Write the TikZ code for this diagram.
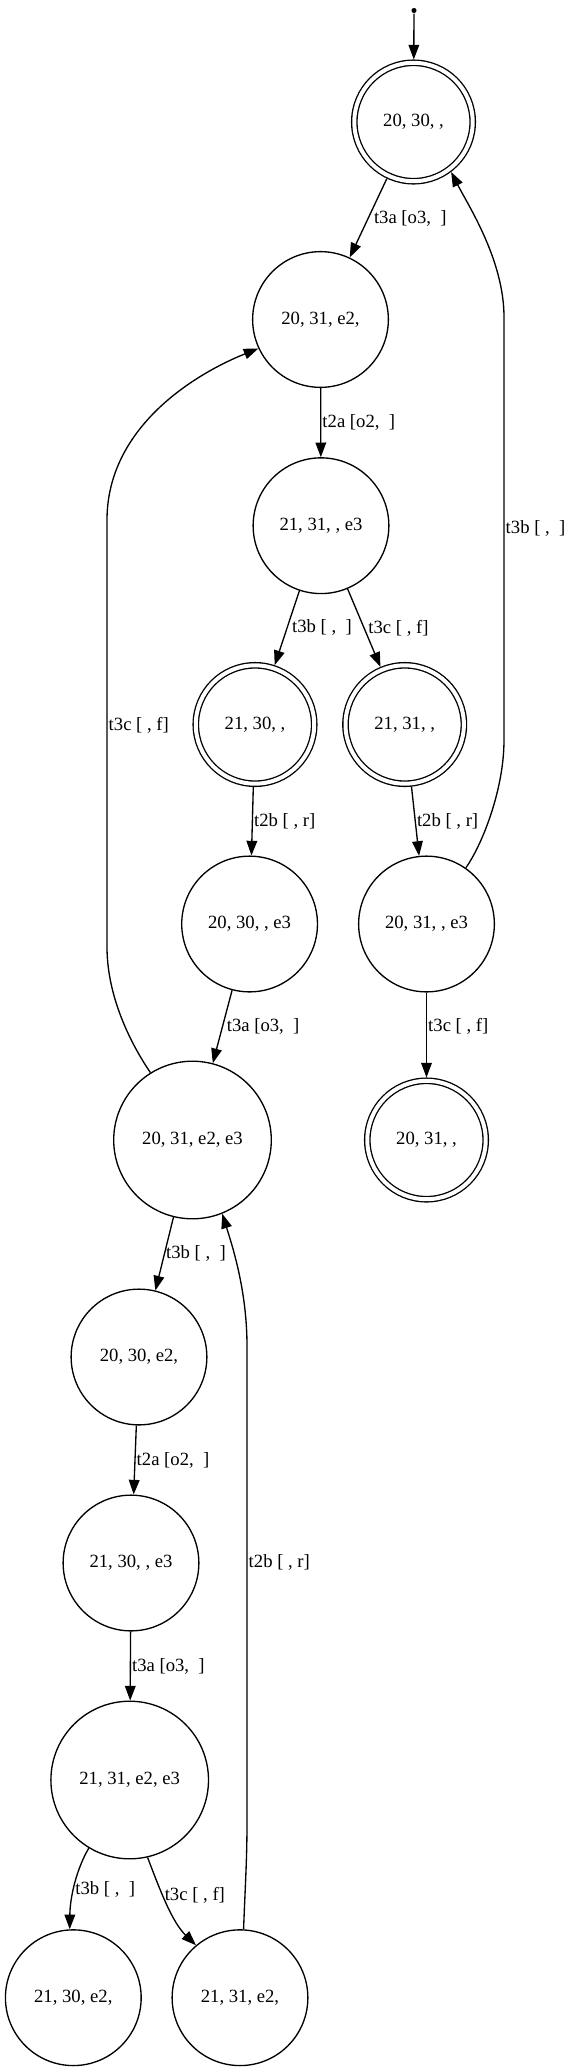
\documentclass[tikz,border=0pt]{standalone}
\usepackage{fontspec}
\setmainfont{Liberation Serif}
\usetikzlibrary{arrows.meta}

\begin{document}
\begin{tikzpicture}[x=0.75pt, y=-0.75pt, line width=1pt,
  every node/.style={font=\fontsize{14}{17}\selectfont},
  state/.style={circle, draw, inner sep=0pt, minimum size=101.8pt},
  widestate/.style={state, minimum size=118.2pt},
  accept/.style={circle, draw, double, double distance=3pt, inner sep=0pt, minimum size=88.8pt, outer sep=2.5pt},
  entry/.style={circle, fill, inner sep=0pt, minimum size=3.8pt},
  edge/.style={-{Triangle[length=11pt, width=8pt]}},
  lbl/.style={anchor=west, inner sep=0.8pt},
]
\useasboundingbox (0,0) rectangle (571,2067);

% States
\node[entry] (init) at (414, 10.5) {};
\node[accept] (s0) at (413.5, 122) {20, 30, ,};
\node[state] (s1) at (320.5, 319.5) {20, 31, e2,};
\node[state] (s2) at (321, 525.7) {21, 31, , e3};
\node[accept] (s3) at (255, 724.5) {21, 30, ,};
\node[accept] (s4) at (404.7, 724.5) {21, 31, ,};
\node[state] (s5) at (249.6, 924) {20, 30, , e3};
\node[state] (s6) at (426.5, 924) {20, 31, , e3};
\node[widestate] (s7) at (192.5, 1140) {20, 31, e2, e3};
\node[accept] (s8) at (426.5, 1140) {20, 31, ,};
\node[state] (s9) at (139, 1357) {20, 30, e2,};
\node[state] (s10) at (131, 1563) {21, 30, , e3};
\node[widestate] (s11) at (129.7, 1780) {21, 31, e2, e3};
\node[state] (s12) at (73.3, 1997.7) {21, 30, e2,};
\node[state] (s13) at (240, 1997.7) {21, 31, e2,};

% Transitions
\draw[edge] (init) -- (s0);
\draw[edge] (s0) -- node[lbl, xshift=3pt]{t3a [o3,\ \ ]} (s1);
\draw[edge] (s1) -- node[lbl]{t2a [o2,\ \ ]} (s2);
\draw[edge] (s2) -- node[lbl, xshift=2.5pt]{t3b [\ ,\ \ ]} (s3);
\draw[edge] (s2) -- node[lbl, xshift=2pt]{t3c [\ , f]} (s4);
\draw[edge] (s3) -- node[lbl]{t2b [\ , r]} (s5);
\draw[edge] (s4) -- node[lbl]{t2b [\ , r]} (s6);
\draw[edge] (s5) -- node[lbl, xshift=2pt]{t3a [o3,\ \ ]} (s7);
\draw[edge] (s6) -- node[lbl, pos=0.4]{t3c [\ , f]} (s8);
\draw[edge] (s7) -- node[lbl]{t3b [\ ,\ \ ]} (s9);
\draw[edge] (s9) -- node[lbl]{t2a [o2,\ \ ]} (s10);
\draw[edge] (s10) -- node[lbl]{t3a [o3,\ \ ]} (s11);
\draw[edge] (s11.-121) .. controls (76, 1870) and (70, 1898) .. node[lbl, pos=0.55]{t3b [\ ,\ \ ]} (s12.93);
\draw[edge] (s11.-77) .. controls (160, 1890) and (172, 1922) .. node[lbl, pos=0.4]{t3c [\ , f]} (s13.130);

% back edges
\draw[edge] (s6.55) .. controls (482, 845) and (504, 790) .. (504, 740)
  -- node[lbl]{t3b [\ ,\ \ ]} (504, 317)
  .. controls (504, 260) and (468, 205) .. (s0.-53);
\draw[edge] (s7.122) .. controls (125, 1035) and (107, 990) .. (107, 947)
  -- node[lbl, pos=0.52]{t3c [\ , f]} (107, 520)
  .. controls (107, 430) and (190, 376) .. (s1.205);
\draw[edge] (s13.87) .. controls (245, 1890) and (247, 1860) .. (247, 1823)
  -- node[lbl, pos=0.547]{t2b [\ , r]} (247, 1346)
  .. controls (247, 1290) and (232, 1245) .. (s7.-68);

\end{tikzpicture}
\end{document}
